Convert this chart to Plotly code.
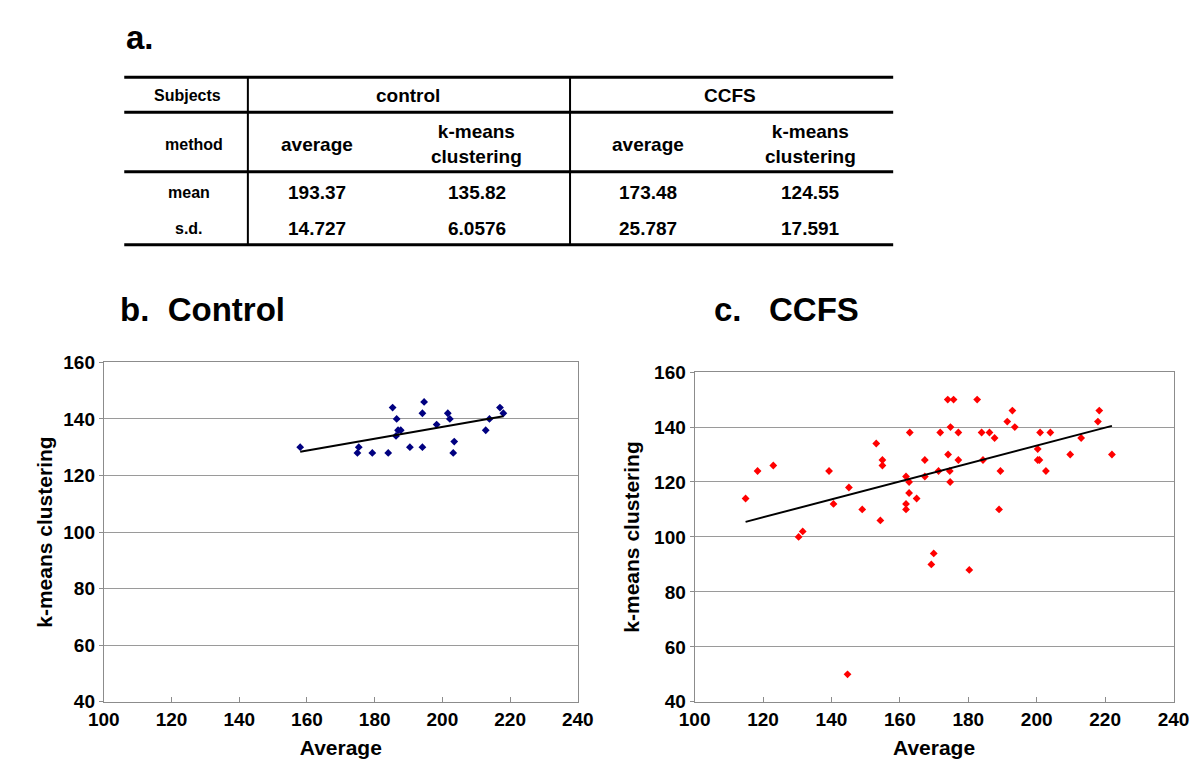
import numpy as np
import plotly.graph_objects as go

W, H = 1200, 770
FONT = "Liberation Sans, Arial, Helvetica, sans-serif"

# ---- table (panel a) ----
table_cols = ["Subjects", "control", "CCFS"]
table_methods = ["method", "average", "k-means<br>clustering", "average", "k-means<br>clustering"]
row_labels = ["mean", "s.d."]
row_mean = ["193.37", "135.82", "173.48", "124.55"]
row_sd = ["14.727", "6.0576", "25.787", "17.591"]

# ---- scatter data (panel b: control, panel c: CCFS) ----
control_avg = [158.0, 175.3, 174.9, 179.3, 184.0, 185.3, 186.5, 186.9, 187.7, 186.3, 190.4,
               194.1, 194.1, 194.6, 198.3, 201.6, 202.2, 203.5, 203.2, 212.8, 213.9, 217.0, 218.0]
control_km = [130, 130, 128, 128, 128, 144, 140, 136, 136, 134, 130,
              130, 142, 146, 138, 142, 140, 132, 128, 136, 140, 144, 142]

ccfs_avg = [114.9, 118.4, 123.0, 130.4, 131.6, 139.3, 140.6, 144.7, 145.1, 149.0,
            153.1, 154.3, 154.9, 154.9, 161.8, 162.7, 162.7, 164.9, 161.8, 161.8,
            162.9, 167.3, 167.3, 169.2, 169.9, 171.3, 171.8, 174.0, 175.7, 174.8,
            174.1, 174.6, 174.7, 177.1, 177.1, 180.3, 182.6, 183.9, 184.3, 186.2,
            187.7, 189.4, 189.0, 191.4, 192.9, 193.6, 200.3, 200.3, 200.8, 201.0,
            202.7, 204.0, 209.8, 213.0, 217.9, 218.3, 222.0]
ccfs_km = [114, 124, 126, 100, 102, 124, 112, 50, 118, 110,
           134, 106, 128, 126, 122, 120, 116, 114, 112, 110,
           138, 128, 122, 90, 94, 124, 138, 150, 150, 140,
           130, 124, 120, 138, 128, 88, 150, 138, 128, 138,
           136, 124, 110, 142, 146, 140, 132, 128, 128, 138,
           124, 138, 130, 136, 142, 146, 130]


def px(x):
    return x / W


def py(y):
    return 1 - y / H


def trend(xs, ys):
    # linear trendline fitted to the points, drawn over their x range
    k, b = np.polyfit(xs, ys, 1)
    x0, x1 = min(xs), max(xs)
    return [x0, x1], [k * x0 + b, k * x1 + b]


fig = go.Figure()

fig.add_trace(go.Scatter(x=control_avg, y=control_km, mode="markers",
                         marker=dict(symbol="diamond", size=6, color="#000080"),
                         xaxis="x", yaxis="y", showlegend=False))
tx, ty = trend(control_avg, control_km)
fig.add_trace(go.Scatter(x=tx, y=ty, mode="lines", line=dict(color="black", width=2),
                         xaxis="x", yaxis="y", showlegend=False))

fig.add_trace(go.Scatter(x=ccfs_avg, y=ccfs_km, mode="markers",
                         marker=dict(symbol="diamond", size=6, color="#ff0000"),
                         xaxis="x2", yaxis="y2", showlegend=False))
tx, ty = trend(ccfs_avg, ccfs_km)
fig.add_trace(go.Scatter(x=tx, y=ty, mode="lines", line=dict(color="black", width=2),
                         xaxis="x2", yaxis="y2", showlegend=False))

tickfont = dict(family=FONT, size=19, color="black", weight="bold")
titlefont = dict(family=FONT, size=21, color="black", weight="bold")


def xax(domain, anchor):
    return dict(domain=domain, anchor=anchor, range=[100, 240], dtick=20,
                showgrid=False, zeroline=False, showline=True, linecolor="#8c8c8c",
                linewidth=1, mirror=True, ticks="inside", ticklen=5, tickcolor="#8c8c8c",
                tickfont=tickfont, title=dict(text="Average", font=titlefont, standoff=11))


def yax(domain, anchor, standoff):
    return dict(domain=domain, anchor=anchor, range=[40, 160], dtick=20,
                showgrid=True, gridcolor="#9a9a9a", gridwidth=1, zeroline=False,
                showline=True, linecolor="#8c8c8c", linewidth=1, mirror=True,
                ticks="outside", ticklen=4, tickcolor="#8c8c8c", tickfont=tickfont,
                title=dict(text="k-means clustering", font=titlefont, standoff=standoff))


fig.update_layout(
    width=W, height=H, margin=dict(l=0, r=0, t=0, b=0),
    paper_bgcolor="white", plot_bgcolor="white",
    xaxis=xax([px(82), px(569)], "y"),
    yaxis=yax([py(703), py(354)], "x", 4),
    xaxis2=xax([px(689), px(1181)], "y2"),
    yaxis2=yax([py(703), py(364)], "x2", 8),
)

# ---- table drawing ----
lines = []
for yy in [61, 97, 158, 233]:
    lines.append(dict(type="line", xref="paper", yref="paper", x0=px(103), x1=px(893),
                      y0=py(yy), y1=py(yy), line=dict(color="black", width=3)))
for xx in [230, 561]:
    lines.append(dict(type="line", xref="paper", yref="paper", x0=px(xx), x1=px(xx),
                      y0=py(61), y1=py(233), line=dict(color="black", width=2)))
fig.update_layout(shapes=lines)

ann = []


def text(t, x, y, size=19, xanchor="center"):
    ann.append(dict(text=t, x=px(x), y=py(y), xref="paper", yref="paper", showarrow=False,
                    xanchor=xanchor, yanchor="middle",
                    font=dict(family=FONT, size=size, color="black", weight="bold")))


text("a.", 103, 20, 33, "left")
text("b.  Control", 97, 300, 33, "left")
text("c.   CCFS", 707, 300, 33, "left")

text(table_cols[0], 168, 80, 16)
text(table_cols[1], 395, 80)
text(table_cols[2], 725, 80)

meth_x = [175, 301, 465, 641, 808]
for t, x in zip(table_methods, meth_x):
    text(t, x, 130, 16 if t == "method" else 19)

data_x = [301, 465, 641, 808]
text(row_labels[0], 170, 179, 16)
text(row_labels[1], 170, 216, 16)
for v, x in zip(row_mean, data_x):
    text(v, x, 179)
for v, x in zip(row_sd, data_x):
    text(v, x, 216)

fig.update_layout(annotations=ann)

fig.write_html("out.html")
